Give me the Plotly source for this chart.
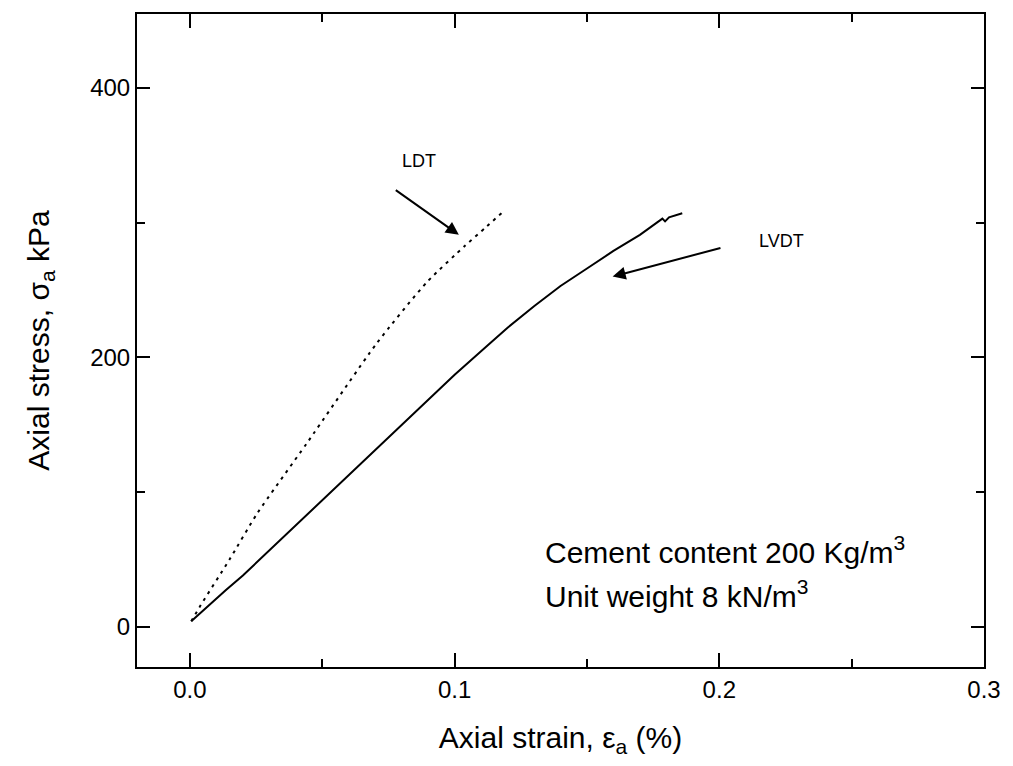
import plotly.graph_objects as go

# LVDT (solid) curve: axial strain (%) vs axial stress (kPa)
lvdt_strain = [0.0005, 0.006, 0.0135, 0.02, 0.035, 0.05, 0.065, 0.08, 0.1, 0.112, 0.12, 0.13, 0.14, 0.15, 0.16, 0.17, 0.1785, 0.1795, 0.181, 0.186]
lvdt_stress = [4, 14, 27, 38, 66, 94, 122, 150, 187, 208, 222, 238, 253, 266, 279, 291, 303, 301, 304, 307]

# LDT (dotted) curve
ldt_strain = [0.0005, 0.0041, 0.015, 0.0254, 0.0441, 0.0704, 0.0896, 0.104, 0.112, 0.1177]
ldt_stress = [4, 16, 50, 84, 136, 210, 256, 283, 297, 307]

x_ticks = [0.0, 0.1, 0.2, 0.3]
x_tick_labels = ["0.0", "0.1", "0.2", "0.3"]
y_ticks = [0, 200, 400]
y_tick_labels = ["0", "200", "400"]

FONT = "Arial, Liberation Sans, sans-serif"

fig = go.Figure()
fig.add_trace(go.Scatter(x=lvdt_strain, y=lvdt_stress, mode="lines",
                         line=dict(color="black", width=2), showlegend=False))
fig.add_trace(go.Scatter(x=ldt_strain, y=ldt_stress, mode="lines",
                         line=dict(color="black", width=2, dash="3px,5px", shape="spline", smoothing=0.6),
                         showlegend=False))

axis_common = dict(showline=True, linecolor="black", linewidth=2, mirror="ticks",
                   ticks="inside", tickcolor="black", tickwidth=2, showgrid=False,
                   zeroline=False, tickfont=dict(family=FONT, size=24, color="black"))

fig.update_xaxes(range=[-0.02, 0.3], tickvals=x_ticks, ticktext=x_tick_labels, ticklen=14,
                 minor=dict(ticks="inside", dtick=0.05, tick0=0, ticklen=8, tickwidth=2, tickcolor="black"),
                 title=dict(text="Axial strain, ε<sub>a</sub> (%)", font=dict(family=FONT, size=30, color="black"),
                            standoff=25),
                 **axis_common)
fig.update_yaxes(range=[-30, 455], tickvals=y_ticks, ticktext=y_tick_labels, ticklen=13,
                 minor=dict(ticks="inside", dtick=100, tick0=0, ticklen=8, tickwidth=2, tickcolor="black"),
                 title=dict(text="Axial stress, σ<sub>a</sub> kPa", font=dict(family=FONT, size=30, color="black"),
                            standoff=32),
                 **axis_common)

annotations = [
    dict(x=0.1016, y=291, ax=0.0772, ay=325, axref="x", ayref="y", xref="x", yref="y",
         text="", showarrow=True, arrowhead=2, arrowsize=1.3, arrowwidth=2, arrowcolor="black"),
    dict(x=0.1597, y=260, ax=0.201, ay=281.5, axref="x", ayref="y", xref="x", yref="y",
         text="", showarrow=True, arrowhead=2, arrowsize=1.3, arrowwidth=2, arrowcolor="black"),
    dict(x=0.0866, y=346, xref="x", yref="y", text="LDT", showarrow=False,
         font=dict(family=FONT, size=18, color="black")),
    dict(x=0.2235, y=286.7, xref="x", yref="y", text="LVDT", showarrow=False,
         font=dict(family=FONT, size=18, color="black")),
    dict(x=0.1335, y=57, xref="x", yref="y", xanchor="left", yanchor="middle",
         text="Cement content 200 Kg/m<sup>3</sup>", showarrow=False,
         font=dict(family=FONT, size=30, color="black")),
    dict(x=0.1335, y=24, xref="x", yref="y", xanchor="left", yanchor="middle",
         text="Unit weight 8 kN/m<sup>3</sup>", showarrow=False,
         font=dict(family=FONT, size=30, color="black")),
]

fig.update_layout(width=1013, height=766, margin=dict(l=137, r=24, t=13, b=99),
                  plot_bgcolor="white", paper_bgcolor="white", annotations=annotations,
                  font=dict(family=FONT, color="black"))

fig.write_html("out.html")
